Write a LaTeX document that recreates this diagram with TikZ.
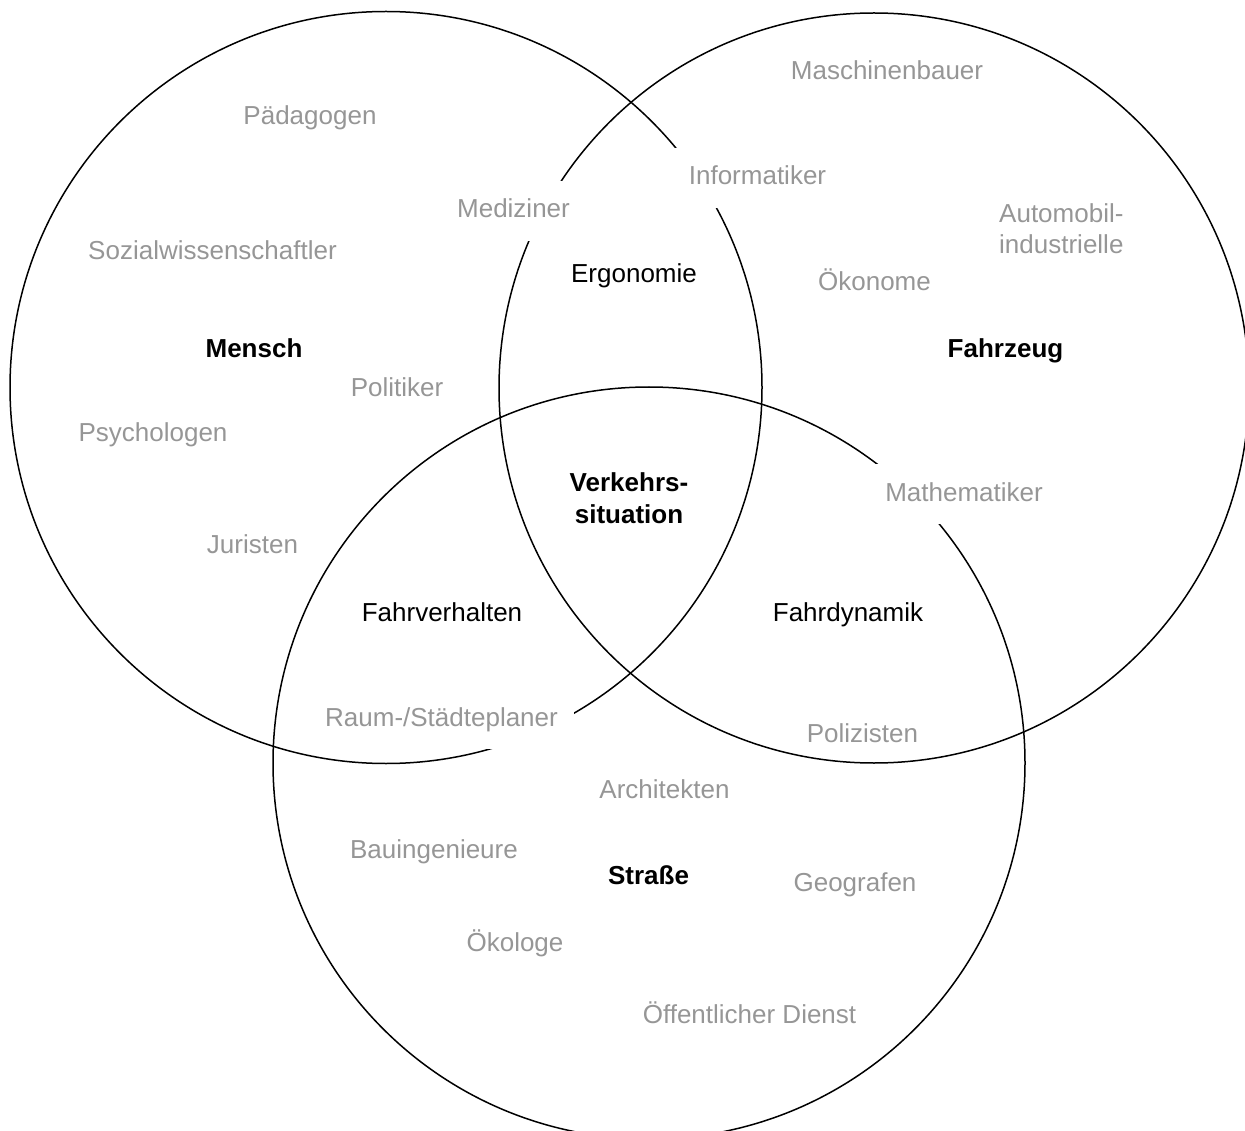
\documentclass[tikz,border=0pt]{standalone}
\usepackage{fontspec}
\setmainfont{Liberation Sans}
\begin{document}
\definecolor{rolegray}{RGB}{150,150,150}
\begin{tikzpicture}[x=1pt,y=-1pt,
  ring/.style={draw=black, line width=1.5pt},
  lbl/.style={anchor=base, inner sep=0pt, font=\fontsize{26}{31.5}\selectfont},
  role/.style={lbl, text=rolegray},
  area/.style={lbl, text=black},
  field/.style={lbl, text=black, font=\fontsize{26}{31.5}\selectfont\bfseries},
  cutout/.style={role, fill=white, text height=20pt, text depth=6pt,
                 inner xsep=16pt, inner ysep=17pt}]
\useasboundingbox (0,0) rectangle (1245,1131);

% the three fields
\draw[ring] (386,387.5) circle (376);
\draw[ring] (874,388) circle (375);
\draw[ring] (649,763) circle (376);

% field names (two-line nodes are placed by the baseline of their last line)
\node[field] (mensch)   at (254,358) {Mensch};
\node[field] (fahrzeug) at (1005.5,358) {Fahrzeug};
\node[field] (strasse)  at (648.5,884) {Straße};
\node[field, align=center] (verkehr) at (629,523) {Verkehrs-\\situation};

% overlaps
\node[area] (ergo)  at (634,283) {Ergonomie};
\node[area] (fverh) at (442,621) {Fahrverhalten};
\node[area] (fdyn)  at (848,621) {Fahrdynamik};

% professions
\node[role] (paed)  at (310,125) {Pädagogen};
\node[role] (sozi)  at (212.5,260) {Sozialwissenschaftler};
\node[role] (poli)  at (397,396) {Politiker};
\node[role] (psych) at (153,442) {Psychologen};
\node[role] (jur)   at (252.5,553) {Juristen};
\node[role] (masch) at (887,80) {Maschinenbauer};
\node[role, align=left, anchor=base west] (auto) at (999,254) {Automobil-\\industrielle};
\node[role] (oeko)  at (874.5,291) {Ökonome};
\node[role] (poliz) at (862.5,742) {Polizisten};
\node[role] (arch)  at (664.5,798) {Architekten};
\node[role] (bau)   at (434,858) {Bauingenieure};
\node[role] (geo)   at (855,891) {Geografen};
\node[role] (oekol) at (515,951) {Ökologe};
\node[role] (oeff)  at (749.5,1023) {Öffentlicher Dienst};

% professions sitting on a boundary line
\node[cutout] (medi)  at (513.5,218) {Mediziner};
\node[cutout] (info)  at (757.5,185) {Informatiker};
\node[cutout] (mathe) at (964,501) {Mathematiker};
\node[cutout] (raum)  at (441.5,726) {Raum-/Städteplaner};
\end{tikzpicture}
\end{document}
